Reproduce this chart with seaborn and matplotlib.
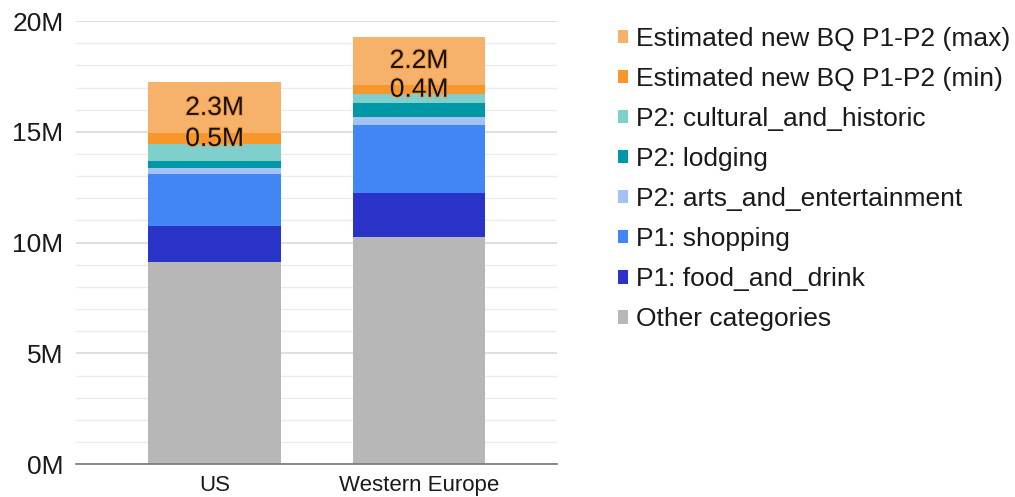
import matplotlib
matplotlib.use("Agg")
import matplotlib.pyplot as plt
import matplotlib.patheffects as pe
from matplotlib.patches import Patch
from matplotlib.ticker import FuncFormatter, MultipleLocator
import numpy as np
import seaborn as sns

# Regions on the x axis
regions = ["US", "Western Europe"]

# Series, bottom to top of each stack (values in millions)
other_categories = [9.13, 10.26]
food_and_drink = [1.61, 1.99]
shopping = [2.38, 3.04]
arts_and_entertainment = [0.27, 0.40]
lodging = [0.29, 0.61]
cultural_and_historic = [0.75, 0.40]
new_bq_min = [0.5, 0.4]
new_bq_max = [2.3, 2.2]

series_names = [
    "Other categories",
    "P1: food_and_drink",
    "P1: shopping",
    "P2: arts_and_entertainment",
    "P2: lodging",
    "P2: cultural_and_historic",
    "Estimated new BQ P1-P2 (min)",
    "Estimated new BQ P1-P2 (max)",
]
series_values = [
    other_categories,
    food_and_drink,
    shopping,
    arts_and_entertainment,
    lodging,
    cultural_and_historic,
    new_bq_min,
    new_bq_max,
]
series_colors = [
    "#b7b7b7",
    "#2a33c8",
    "#4285f4",
    "#a4c2f4",
    "#0097a7",
    "#7fcfcc",
    "#f7962a",
    "#f6b26b",
]
labelled_series = {"Estimated new BQ P1-P2 (min)", "Estimated new BQ P1-P2 (max)"}

sns.set_theme(style="white")
plt.rcParams["font.family"] = ["Liberation Sans", "DejaVu Sans"]

fig = plt.figure(figsize=(10.15, 4.97), dpi=100)
ax = fig.add_axes([0.0749, 0.0658, 0.4739, 0.8919])

bottom = np.zeros(len(regions))
for name, vals, col in zip(series_names, series_values, series_colors):
    vals = np.asarray(vals, dtype=float)
    sns.barplot(x=regions, y=vals, bottom=bottom, color=col, width=0.65,
                ax=ax, saturation=1, linewidth=0, zorder=3)
    if name in labelled_series:
        for i, v in enumerate(vals):
            ax.text(i, bottom[i] + v / 2, f"{v:.1f}M", ha="center", va="center",
                    fontsize=19, color="#111111", zorder=5,
                    path_effects=[pe.withStroke(linewidth=1.5, foreground="#f39a3a")])
    bottom = bottom + vals

ax.set_xlim(-0.677, 1.675)
ax.set_ylim(0, 20)
ax.yaxis.set_major_locator(MultipleLocator(5))
ax.yaxis.set_minor_locator(MultipleLocator(1))
ax.yaxis.set_major_formatter(FuncFormatter(lambda v, p: f"{v:.0f}M"))
ax.grid(axis="y", which="major", color="#d9d9d9", linewidth=1.2, zorder=0)
ax.grid(axis="y", which="minor", color="#ececec", linewidth=1.0, zorder=0)
ax.set_axisbelow(True)

for s in ["top", "right", "left"]:
    ax.spines[s].set_visible(False)
ax.spines["bottom"].set_color("#777777")
ax.spines["bottom"].set_linewidth(1.2)
ax.spines["bottom"].set_zorder(4)

ax.tick_params(axis="y", which="both", length=0, pad=9, labelsize=19, labelcolor="#1a1a1a")
ax.tick_params(axis="x", length=0, pad=8, labelsize=16, labelcolor="#1a1a1a")
ax.set_xlabel("")
ax.set_ylabel("")

handles = [Patch(facecolor=c, edgecolor="none") for c in series_colors][::-1]
labels = series_names[::-1]
fig.legend(handles, labels, loc="upper left", bbox_to_anchor=(0.585, 0.994),
           frameon=False, fontsize=19, handlelength=0.4, handleheight=0.4,
           handletextpad=0.3, labelspacing=0.61, labelcolor="#1a1a1a")

fig.savefig("out.png", dpi=100)
